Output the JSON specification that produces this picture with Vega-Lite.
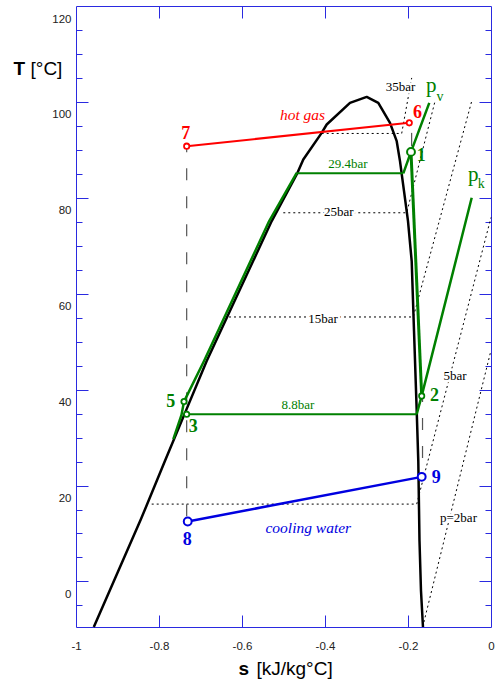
{
  "$schema": "https://vega.github.io/schema/vega-lite/v6.json",
  "width": 415,
  "height": 621,
  "autosize": {"type": "none"},
  "padding": {"left": 76, "top": 6, "right": 7, "bottom": 57},
  "background": "white",
  "config": {
    "view": {"stroke": "#2a2ae0", "strokeWidth": 1},
    "axis": {"grid": false, "domain": false, "tickColor": "#2a2ae0", "tickWidth": 1, "labelFont": "Liberation Sans", "titleFont": "Liberation Sans", "titleColor": "#000", "labelColor": "#222"}
  },
  "datasets": {
    "lines": [
      {"g": "dome", "i": 0, "s": -0.9571, "T": -9.5},
      {"g": "dome", "i": 1, "s": -0.8434, "T": 13.0},
      {"g": "dome", "i": 2, "s": -0.7855, "T": 25.15},
      {"g": "dome", "i": 3, "s": -0.7373, "T": 35.15},
      {"g": "dome", "i": 4, "s": -0.6851, "T": 45.98},
      {"g": "dome", "i": 5, "s": -0.5284, "T": 75.15},
      {"g": "dome", "i": 6, "s": -0.4663, "T": 85.21},
      {"g": "dome", "i": 7, "s": -0.4523, "T": 88.0},
      {"g": "dome", "i": 8, "s": -0.408, "T": 93.54},
      {"g": "dome", "i": 9, "s": -0.3959, "T": 95.29},
      {"g": "dome", "i": 10, "s": -0.3398, "T": 99.79},
      {"g": "dome", "i": 11, "s": -0.2995, "T": 101.04},
      {"g": "dome", "i": 12, "s": -0.2716, "T": 99.79},
      {"g": "dome", "i": 13, "s": -0.2434, "T": 95.63},
      {"g": "dome", "i": 14, "s": -0.2272, "T": 91.81},
      {"g": "dome", "i": 15, "s": -0.2193, "T": 87.65},
      {"g": "dome", "i": 16, "s": -0.2096, "T": 81.4},
      {"g": "dome", "i": 17, "s": -0.2, "T": 75.15},
      {"g": "dome", "i": 18, "s": -0.1911, "T": 66.81},
      {"g": "dome", "i": 19, "s": -0.1855, "T": 52.23},
      {"g": "dome", "i": 20, "s": -0.179, "T": 35.56},
      {"g": "dome", "i": 21, "s": -0.1752, "T": 25.15},
      {"g": "dome", "i": 22, "s": -0.1723, "T": 8.48},
      {"g": "dome", "i": 23, "s": -0.1687, "T": -1.94},
      {"g": "dome", "i": 24, "s": -0.1639, "T": -9.5},
      {"g": "liq", "i": 0, "s": -0.7655, "T": 29.67},
      {"g": "liq", "i": 1, "s": -0.7458, "T": 34.73},
      {"g": "liq", "i": 2, "s": -0.7398, "T": 37.5},
      {"g": "liq", "i": 3, "s": -0.6915, "T": 45.98},
      {"g": "liq", "i": 4, "s": -0.5345, "T": 75.15},
      {"g": "liq", "i": 5, "s": -0.4682, "T": 85.21},
      {"g": "h294", "i": 0, "s": -0.4682, "T": 85.1},
      {"g": "h294", "i": 1, "s": -0.2113, "T": 85.1},
      {"g": "pv", "i": 0, "s": -0.2113, "T": 85.1},
      {"g": "pv", "i": 1, "s": -0.1928, "T": 89.58},
      {"g": "pv", "i": 2, "s": -0.1487, "T": 99.79},
      {"g": "h88", "i": 0, "s": -0.7333, "T": 34.88},
      {"g": "h88", "i": 1, "s": -0.179, "T": 34.88},
      {"g": "pk", "i": 0, "s": -0.179, "T": 34.88},
      {"g": "pk", "i": 1, "s": -0.167, "T": 38.69},
      {"g": "pk", "i": 2, "s": -0.0465, "T": 80.0},
      {"g": "c12", "i": 0, "s": -0.1928, "T": 89.58},
      {"g": "c12", "i": 1, "s": -0.167, "T": 38.69},
      {"g": "hot", "i": 0, "s": -0.7333, "T": 90.77},
      {"g": "hot", "i": 1, "s": -0.1969, "T": 95.63},
      {"g": "cool", "i": 0, "s": -0.7308, "T": 12.5},
      {"g": "cool", "i": 1, "s": -0.167, "T": 21.81},
      {"g": "b35", "i": 0, "s": -0.408, "T": 93.42},
      {"g": "b35", "i": 1, "s": -0.2152, "T": 93.42},
      {"g": "b35", "i": 2, "s": -0.1911, "T": 105.0},
      {"g": "b25", "i": 0, "s": -0.5005, "T": 76.88},
      {"g": "b25", "i": 1, "s": -0.2031, "T": 76.88},
      {"g": "b25", "i": 2, "s": -0.1349, "T": 100.15},
      {"g": "b15", "i": 0, "s": -0.6313, "T": 55.15},
      {"g": "b15", "i": 1, "s": -0.1872, "T": 55.15},
      {"g": "b15", "i": 2, "s": -0.0465, "T": 100.15},
      {"g": "b5", "i": 0, "s": -0.8176, "T": 16.13},
      {"g": "b5", "i": 1, "s": -0.179, "T": 16.13},
      {"g": "b5", "i": 2, "s": 0, "T": 75.9},
      {"g": "b2", "i": 0, "s": -0.1646, "T": -9.5},
      {"g": "b2", "i": 1, "s": 0, "T": 48.2},
      {"g": "d78", "i": 0, "s": -0.7333, "T": 90.77},
      {"g": "d78", "i": 1, "s": -0.7333, "T": 12.5},
      {"g": "d29", "i": 0, "s": -0.165, "T": 38.69},
      {"g": "d29", "i": 1, "s": -0.165, "T": 21.81},
      {"g": "d61", "i": 0, "s": -0.1911, "T": 93.54},
      {"g": "d61", "i": 1, "s": -0.1911, "T": 90.77}
    ],
    "pts": [
      {"n": "1", "s": -0.1928, "T": 89.58, "c": "g"},
      {"n": "2", "s": -0.167, "T": 38.69, "c": "g"},
      {"n": "3", "s": -0.7333, "T": 34.88, "c": "g"},
      {"n": "5", "s": -0.7398, "T": 37.5, "c": "g"},
      {"n": "6", "s": -0.1969, "T": 95.63, "c": "r"},
      {"n": "7", "s": -0.7333, "T": 90.77, "c": "r"},
      {"n": "8", "s": -0.7308, "T": 12.5, "c": "b"},
      {"n": "9", "s": -0.167, "T": 21.81, "c": "b"}
    ],
    "labels": [
      {"k": "num", "t": "1", "s": -0.1682, "T": 88.75, "c": "g"},
      {"k": "num", "t": "2", "s": -0.1361, "T": 38.63, "c": "g"},
      {"k": "num", "t": "3", "s": -0.7173, "T": 32.27, "c": "g"},
      {"k": "num", "t": "5", "s": -0.7716, "T": 37.48, "c": "g"},
      {"k": "num", "t": "6", "s": -0.1771, "T": 97.65, "c": "r"},
      {"k": "num", "t": "7", "s": -0.7354, "T": 93.27, "c": "r"},
      {"k": "num", "t": "8", "s": -0.732, "T": 8.58, "c": "b"},
      {"k": "num", "t": "9", "s": -0.132, "T": 21.67, "c": "b"},
      {"k": "it", "t": "hot gas", "s": -0.4542, "T": 97.23, "c": "r"},
      {"k": "it", "t": "cooling water", "s": -0.4402, "T": 11.19, "c": "b"},
      {"k": "gbar", "t": "29.4bar", "s": -0.345, "T": 86.96, "c": "g"},
      {"k": "gbar", "t": "8.8bar", "s": -0.465, "T": 36.75, "c": "g"},
      {"k": "kbar", "t": "35bar", "s": -0.218, "T": 103.06, "c": "k"},
      {"k": "kbar", "t": "25bar", "s": -0.367, "T": 77.08, "c": "k"},
      {"k": "kbar", "t": "15bar", "s": -0.4048, "T": 54.73, "c": "k"},
      {"k": "kbar", "t": "5bar", "s": -0.0867, "T": 42.85, "c": "k"},
      {"k": "kbar", "t": "p=2bar", "s": -0.0783, "T": 13.2, "c": "k"},
      {"k": "p", "t": "p", "s": -0.1438, "T": 102.08, "c": "g"},
      {"k": "p", "t": "p", "s": -0.0426, "T": 83.48, "c": "g"},
      {"k": "sub", "t": "v", "s": -0.1229, "T": 100.29, "c": "g"},
      {"k": "sub", "t": "k", "s": -0.0234, "T": 82.13, "c": "g"}
    ]
  },
  "resolve": {"axis": {"x": "independent", "y": "independent"}},
  "layer": [
    {
      "data": {"name": "lines"},
      "transform": [{"filter": {"field": "g", "oneOf": ["b35", "b25", "b15", "b5", "b2"]}}],
      "mark": {"type": "line", "color": "#000", "strokeWidth": 1, "strokeDash": [2, 3]},
      "encoding": {
        "x": {"field": "s", "type": "quantitative", "scale": {"domain": [-1, 0], "nice": false, "zero": false},
          "axis": {"orient": "bottom", "values": [-1, -0.8, -0.6, -0.4, -0.2, 0], "ticks": false, "labelPadding": 13, "labelFlush": false, "labelFontSize": 11.5, "labelExpr": "datum.value == 0 ? '0' : '-' + format(abs(datum.value), '~g')", "title": "s", "titleFontWeight": "bold", "titleFontSize": 19, "titleX": 162, "titleY": 47, "titleAlign": "left", "titleBaseline": "alphabetic"}},
        "y": {"field": "T", "type": "quantitative", "scale": {"domain": [-9.5, 120], "nice": false, "zero": false},
          "axis": {"orient": "left", "values": [0, 20, 40, 60, 80, 100, 120], "ticks": false, "labelPadding": 5, "labelOffset": 13, "labelFlush": false, "labelFontSize": 11.5, "title": "T", "titleFontWeight": "bold", "titleAngle": 0, "titleX": -63, "titleY": 68, "titleAlign": "left", "titleBaseline": "alphabetic", "titleFontSize": 19}},
        "detail": {"field": "g"},
        "order": {"field": "i"}
      }
    },
    {
      "data": {"name": "lines"},
      "transform": [{"filter": {"field": "g", "oneOf": ["d78", "d29"]}}],
      "mark": {"type": "line", "color": "#555", "strokeWidth": 1.2, "strokeDash": [12, 16], "strokeDashOffset": 6},
      "encoding": {
        "x": {"field": "s", "type": "quantitative", "scale": {"domain": [-1, 0], "nice": false, "zero": false},
          "axis": {"orient": "bottom", "values": [-0.8, -0.6, -0.4, -0.2], "labels": false, "ticks": true, "tickSize": -12, "title": "[kJ/kg°C]", "titleFontWeight": "normal", "titleFontSize": 19, "titleX": 180, "titleY": 47, "titleAlign": "left", "titleBaseline": "alphabetic"}},
        "y": {"field": "T", "type": "quantitative", "scale": {"domain": [-9.5, 120], "nice": false, "zero": false},
          "axis": {"orient": "left", "values": [0, 20, 40, 60, 80, 100], "labels": false, "ticks": true, "tickSize": -12, "title": "[°C]", "titleFontWeight": "normal", "titleAngle": 0, "titleX": -46, "titleY": 68, "titleAlign": "left", "titleBaseline": "alphabetic", "titleFontSize": 19}},
        "detail": {"field": "g"},
        "order": {"field": "i"}
      }
    },
    {
      "data": {"name": "lines"},
      "transform": [{"filter": {"field": "g", "oneOf": ["d61"]}}],
      "mark": {"type": "line", "color": "#333", "strokeWidth": 1},
      "encoding": {
        "x": {"field": "s", "type": "quantitative", "scale": {"domain": [-1, 0], "nice": false, "zero": false},
          "axis": {"orient": "top", "values": [-0.8, -0.6, -0.4, -0.2], "labels": false, "ticks": true, "tickSize": -12, "title": null}},
        "y": {"field": "T", "type": "quantitative", "scale": {"domain": [-9.5, 120], "nice": false, "zero": false},
          "axis": {"orient": "left", "values": [-5, 5, 10, 15, 25, 30, 35, 45, 50, 55, 65, 70, 75, 85, 90, 95, 105, 110, 115], "labels": false, "ticks": true, "tickSize": -6, "title": null}},
        "order": {"field": "i"}
      }
    },
    {
      "data": {"name": "lines"},
      "transform": [{"filter": {"field": "g", "oneOf": ["dome"]}}],
      "mark": {"type": "line", "color": "#000", "strokeWidth": 2.5, "strokeJoin": "round"},
      "encoding": {
        "x": {"field": "s", "type": "quantitative", "scale": {"domain": [-1, 0], "nice": false, "zero": false}, "axis": null},
        "y": {"field": "T", "type": "quantitative", "scale": {"domain": [-9.5, 120], "nice": false, "zero": false},
          "axis": {"orient": "right", "values": [0, 20, 40, 60, 80, 100], "labels": false, "ticks": true, "tickSize": -12, "title": null}},
        "order": {"field": "i"}
      }
    },
    {
      "data": {"name": "lines"},
      "transform": [{"filter": {"field": "g", "oneOf": ["liq", "pv", "pk"]}}],
      "mark": {"type": "line", "color": "#008000", "strokeWidth": 2.5, "strokeJoin": "round"},
      "encoding": {
        "x": {"field": "s", "type": "quantitative", "scale": {"domain": [-1, 0], "nice": false, "zero": false}, "axis": null},
        "y": {"field": "T", "type": "quantitative", "scale": {"domain": [-9.5, 120], "nice": false, "zero": false},
          "axis": {"orient": "right", "values": [-5, 5, 10, 15, 25, 30, 35, 45, 50, 55, 65, 70, 75, 85, 90, 95, 105, 110, 115], "labels": false, "ticks": true, "tickSize": -6, "title": null}},
        "detail": {"field": "g"},
        "order": {"field": "i"}
      }
    },
    {
      "data": {"name": "lines"},
      "transform": [{"filter": {"field": "g", "oneOf": ["h294", "h88"]}}],
      "mark": {"type": "line", "color": "#008000", "strokeWidth": 2},
      "encoding": {
        "x": {"field": "s", "type": "quantitative", "scale": {"domain": [-1, 0], "nice": false, "zero": false}, "axis": null},
        "y": {"field": "T", "type": "quantitative", "scale": {"domain": [-9.5, 120], "nice": false, "zero": false}, "axis": null},
        "detail": {"field": "g"},
        "order": {"field": "i"}
      }
    },
    {
      "data": {"name": "lines"},
      "transform": [{"filter": {"field": "g", "oneOf": ["c12"]}}],
      "mark": {"type": "line", "color": "#008000", "strokeWidth": 3},
      "encoding": {
        "x": {"field": "s", "type": "quantitative", "scale": {"domain": [-1, 0], "nice": false, "zero": false}, "axis": null},
        "y": {"field": "T", "type": "quantitative", "scale": {"domain": [-9.5, 120], "nice": false, "zero": false}, "axis": null},
        "order": {"field": "i"}
      }
    },
    {
      "data": {"name": "lines"},
      "transform": [{"filter": {"field": "g", "oneOf": ["hot"]}}],
      "mark": {"type": "line", "color": "#ff0000", "strokeWidth": 2},
      "encoding": {
        "x": {"field": "s", "type": "quantitative", "scale": {"domain": [-1, 0], "nice": false, "zero": false}, "axis": null},
        "y": {"field": "T", "type": "quantitative", "scale": {"domain": [-9.5, 120], "nice": false, "zero": false}, "axis": null},
        "order": {"field": "i"}
      }
    },
    {
      "data": {"name": "lines"},
      "transform": [{"filter": {"field": "g", "oneOf": ["cool"]}}],
      "mark": {"type": "line", "color": "#0000e0", "strokeWidth": 2.5},
      "encoding": {
        "x": {"field": "s", "type": "quantitative", "scale": {"domain": [-1, 0], "nice": false, "zero": false}, "axis": null},
        "y": {"field": "T", "type": "quantitative", "scale": {"domain": [-9.5, 120], "nice": false, "zero": false}, "axis": null},
        "order": {"field": "i"}
      }
    },
    {
      "data": {"name": "pts"},
      "transform": [{"filter": {"field": "n", "oneOf": ["2", "3", "5", "6", "7"]}}],
      "mark": {"type": "point", "shape": "circle", "fill": "white", "fillOpacity": 1, "opacity": 1, "strokeWidth": 1.8, "size": 28},
      "encoding": {
        "x": {"field": "s", "type": "quantitative", "scale": {"domain": [-1, 0], "nice": false, "zero": false}, "axis": null},
        "y": {"field": "T", "type": "quantitative", "scale": {"domain": [-9.5, 120], "nice": false, "zero": false}, "axis": null},
        "stroke": {"field": "c", "type": "nominal", "scale": {"domain": ["r", "g", "b", "k", "rl"], "range": ["#ff0000", "#008000", "#0000e0", "#000000", "#ff2e2e"]}, "legend": null}
      }
    },
    {
      "data": {"name": "pts"},
      "transform": [{"filter": {"field": "n", "oneOf": ["1", "8", "9"]}}],
      "mark": {"type": "point", "shape": "circle", "fill": "white", "fillOpacity": 1, "opacity": 1, "strokeWidth": 2, "size": 62},
      "encoding": {
        "x": {"field": "s", "type": "quantitative", "scale": {"domain": [-1, 0], "nice": false, "zero": false}, "axis": null},
        "y": {"field": "T", "type": "quantitative", "scale": {"domain": [-9.5, 120], "nice": false, "zero": false}, "axis": null},
        "stroke": {"field": "c", "type": "nominal", "scale": {"domain": ["r", "g", "b", "k", "rl"], "range": ["#ff0000", "#008000", "#0000e0", "#000000", "#ff2e2e"]}, "legend": null}
      }
    },
    {
      "data": {"name": "labels"},
      "transform": [{"filter": {"field": "k", "oneOf": ["num"]}}],
      "mark": {"type": "text", "font": "Liberation Serif", "fontWeight": "bold", "fontSize": 18, "align": "center", "baseline": "middle"},
      "encoding": {
        "x": {"field": "s", "type": "quantitative", "scale": {"domain": [-1, 0], "nice": false, "zero": false}, "axis": null},
        "y": {"field": "T", "type": "quantitative", "scale": {"domain": [-9.5, 120], "nice": false, "zero": false}, "axis": null},
        "text": {"field": "t"},
        "color": {"field": "c", "type": "nominal", "scale": {"domain": ["r", "g", "b", "k", "rl"], "range": ["#ff0000", "#008000", "#0000e0", "#000000", "#ff2e2e"]}, "legend": null}
      }
    },
    {
      "data": {"name": "labels"},
      "transform": [{"filter": {"field": "k", "oneOf": ["it"]}}],
      "mark": {"type": "text", "font": "Liberation Serif", "fontStyle": "italic", "fontSize": 15.5, "align": "center", "baseline": "middle"},
      "encoding": {
        "x": {"field": "s", "type": "quantitative", "scale": {"domain": [-1, 0], "nice": false, "zero": false}, "axis": null},
        "y": {"field": "T", "type": "quantitative", "scale": {"domain": [-9.5, 120], "nice": false, "zero": false}, "axis": null},
        "text": {"field": "t"},
        "color": {"field": "c", "type": "nominal", "scale": {"domain": ["r", "g", "b", "k", "rl"], "range": ["#ff0000", "#008000", "#0000e0", "#000000", "#ff2e2e"]}, "legend": null}
      }
    },
    {
      "data": {"name": "labels"},
      "transform": [{"filter": {"field": "k", "oneOf": ["gbar"]}}],
      "mark": {"type": "text", "font": "Liberation Serif", "fontSize": 13, "align": "center", "baseline": "middle"},
      "encoding": {
        "x": {"field": "s", "type": "quantitative", "scale": {"domain": [-1, 0], "nice": false, "zero": false}, "axis": null},
        "y": {"field": "T", "type": "quantitative", "scale": {"domain": [-9.5, 120], "nice": false, "zero": false}, "axis": null},
        "text": {"field": "t"},
        "color": {"field": "c", "type": "nominal", "scale": {"domain": ["r", "g", "b", "k", "rl"], "range": ["#ff0000", "#008000", "#0000e0", "#000000", "#ff2e2e"]}, "legend": null}
      }
    },
    {
      "data": {"name": "labels"},
      "transform": [{"filter": {"field": "k", "oneOf": ["kbar"]}}],
      "mark": {"type": "text", "font": "Liberation Serif", "fontSize": 13, "align": "center", "baseline": "middle", "fill": "white", "stroke": "white", "strokeWidth": 5, "strokeJoin": "round"},
      "encoding": {
        "x": {"field": "s", "type": "quantitative", "scale": {"domain": [-1, 0], "nice": false, "zero": false}, "axis": null},
        "y": {"field": "T", "type": "quantitative", "scale": {"domain": [-9.5, 120], "nice": false, "zero": false}, "axis": null},
        "text": {"field": "t"}
      }
    },
    {
      "data": {"name": "labels"},
      "transform": [{"filter": {"field": "k", "oneOf": ["kbar"]}}],
      "mark": {"type": "text", "font": "Liberation Serif", "fontSize": 13, "align": "center", "baseline": "middle", "color": "#000"},
      "encoding": {
        "x": {"field": "s", "type": "quantitative", "scale": {"domain": [-1, 0], "nice": false, "zero": false}, "axis": null},
        "y": {"field": "T", "type": "quantitative", "scale": {"domain": [-9.5, 120], "nice": false, "zero": false}, "axis": null},
        "text": {"field": "t"}
      }
    },
    {
      "data": {"name": "labels"},
      "transform": [{"filter": {"field": "k", "oneOf": ["p"]}}],
      "mark": {"type": "text", "font": "Liberation Serif", "fontSize": 21, "align": "center", "baseline": "alphabetic", "color": "#008000"},
      "encoding": {
        "x": {"field": "s", "type": "quantitative", "scale": {"domain": [-1, 0], "nice": false, "zero": false}, "axis": null},
        "y": {"field": "T", "type": "quantitative", "scale": {"domain": [-9.5, 120], "nice": false, "zero": false}, "axis": null},
        "text": {"field": "t"}
      }
    },
    {
      "data": {"name": "labels"},
      "transform": [{"filter": {"field": "k", "oneOf": ["sub"]}}],
      "mark": {"type": "text", "font": "Liberation Serif", "fontSize": 14, "align": "center", "baseline": "alphabetic", "color": "#008000"},
      "encoding": {
        "x": {"field": "s", "type": "quantitative", "scale": {"domain": [-1, 0], "nice": false, "zero": false}, "axis": null},
        "y": {"field": "T", "type": "quantitative", "scale": {"domain": [-9.5, 120], "nice": false, "zero": false}, "axis": null},
        "text": {"field": "t"}
      }
    }
  ]
}
